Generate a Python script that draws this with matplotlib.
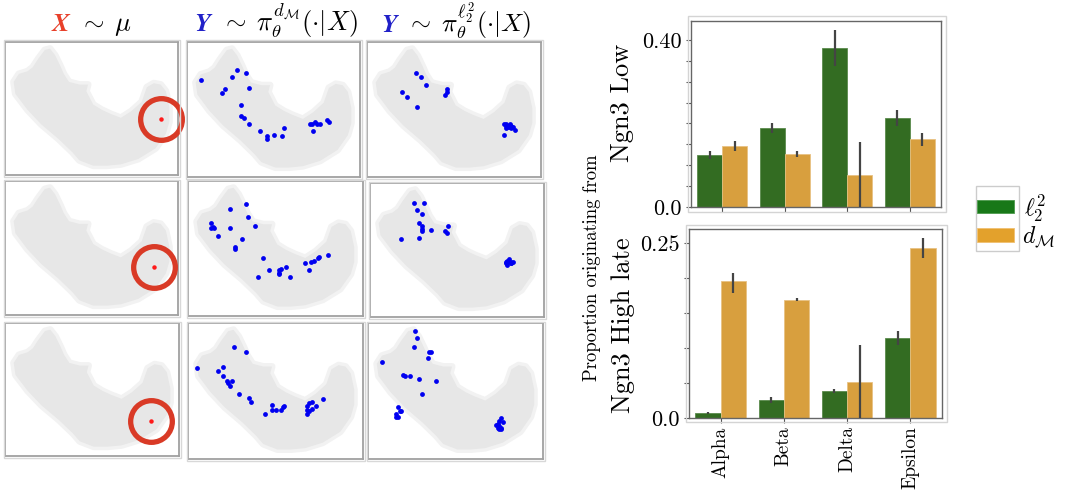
import matplotlib
matplotlib.use("Agg")
import matplotlib.pyplot as plt
from matplotlib.patches import Rectangle
from matplotlib.offsetbox import TextArea, HPacker, AnchoredOffsetbox
import numpy as np

plt.rcParams['font.family'] = ['cmr10', 'DejaVu Serif']
plt.rcParams['mathtext.fontset'] = 'cm'
plt.rcParams['axes.unicode_minus'] = False

# ---------------- data ----------------
categories = ['Alpha', 'Beta', 'Delta', 'Epsilon']

low_l2 = [0.125, 0.190, 0.381, 0.213]
low_l2_lo = [0.115, 0.178, 0.338, 0.193]
low_l2_hi = [0.135, 0.201, 0.424, 0.232]
low_dm = [0.147, 0.127, 0.077, 0.162]
low_dm_lo = [0.135, 0.119, 0.0, 0.147]
low_dm_hi = [0.158, 0.133, 0.155, 0.177]

late_l2 = [0.007, 0.026, 0.038, 0.115]
late_l2_lo = [0.006, 0.022, 0.036, 0.105]
late_l2_hi = [0.009, 0.030, 0.041, 0.124]
late_dm = [0.196, 0.169, 0.052, 0.243]
late_dm_lo = [0.179, 0.167, 0.0, 0.229]
late_dm_hi = [0.207, 0.171, 0.104, 0.257]

# outline of the embedding (background cells), in embedding units 0-100
umap_x = [5, 8, 13, 16, 19, 23, 26, 29, 32, 34, 37, 43, 48, 47, 51, 56, 61, 67, 73, 79,
          82, 86, 90, 93, 95, 95, 93, 87, 77, 67, 59, 51, 43, 39, 31, 21, 13, 6]
umap_y = [70, 76, 78, 81, 87, 94, 95, 90, 82, 76, 70, 68, 68, 63, 53, 49, 46, 43, 48, 55,
          66, 69, 68, 63, 51, 40, 31, 20, 12, 8, 7, 7, 11, 17, 27, 38, 49, 61]

# query points X ~ mu (one per row)
query_x = [90, 86, 84]
query_y = [42, 36, 26]

# samples Y ~ pi(.|X), d_M column and l2 column, per row
dm_x = [
    [8, 29, 34, 26, 36, 22, 20, 31, 31, 33, 36, 42, 46, 46, 50, 55, 56, 72, 74, 75, 77, 73, 81, 82, 71],
    [24, 33, 34, 13, 13, 14, 15, 24, 38, 17, 31, 27, 27, 43, 46, 40, 52, 52, 52, 53, 56, 58, 67, 70, 72, 74, 75, 80, 69],
    [26, 33, 5, 17, 20, 20, 22, 23, 24, 25, 29, 35, 36, 48, 48, 50, 44, 53, 54, 55, 68, 69, 71, 68, 68, 69, 71, 73, 77],
]
dm_y = [
    [72, 79, 77, 74, 66, 65, 62, 53, 45, 44, 39, 34, 30, 28, 31, 30, 36, 39, 41, 39, 39, 34, 42, 41, 39],
    [79, 83, 73, 69, 65, 66, 65, 65, 67, 59, 57, 51, 50, 43, 34, 29, 34, 32, 31, 35, 36, 29, 39, 40, 41, 43, 44, 45, 34],
    [82, 79, 67, 65, 68, 61, 57, 56, 54, 57, 48, 45, 42, 40, 36, 36, 33, 36, 38, 39, 39, 41, 42, 36, 33, 35, 37, 39, 44],
]
l2_x = [
    [28, 31, 34, 20, 23, 29, 46, 46, 45, 79, 80, 82, 83, 84, 80, 81, 83, 85, 79, 81, 82, 80],
    [25, 31, 27, 30, 28, 30, 30, 30, 35, 45, 43, 44, 18, 28, 78, 79, 80, 81, 82, 79, 81, 78, 81],
    [27, 28, 26, 35, 36, 34, 8, 20, 21, 24, 29, 39, 31, 17, 18, 19, 16, 17, 16, 76, 75, 77, 74, 73, 75, 76, 76, 75, 74],
]
l2_y = [
    [77, 74, 68, 63, 59, 52, 65, 63, 61, 39, 39, 39, 38, 37, 36, 37, 36, 35, 31, 38, 37, 38],
    [85, 85, 80, 77, 70, 68, 66, 64, 65, 68, 64, 63, 58, 59, 40, 42, 43, 41, 41, 39, 40, 41, 40],
    [94, 89, 82, 79, 79, 74, 71, 62, 61, 61, 59, 57, 48, 38, 35, 35, 31, 31, 33, 30, 28, 27, 26, 25, 24, 22, 23, 22, 23],
]

# ---------------- figure ----------------
W, H = 1065, 490
fig = plt.figure(figsize=(W / 100, H / 100), dpi=100)


def rect(l, t, r, b):
    return [l / W, 1 - b / H, (r - l) / W, (b - t) / H]


def frame(l, t, r, b, color='#d8d8d8', lw=1.0):
    fig.add_artist(Rectangle((l / W, 1 - b / H), (r - l) / W, (b - t) / H,
                             transform=fig.transFigure, fill=False,
                             edgecolor=color, linewidth=lw))


panel_boxes = [
    [(5, 42, 178, 175), (187, 42, 360, 177), (367, 42, 541, 177)],
    [(5, 181, 178, 315), (188, 181, 363, 316), (370, 183, 544, 317)],
    [(5, 323, 179, 456), (188, 323, 363, 459), (368, 323, 543, 459)],
]

RED = '#d93a26'
BLUE = '#0000f0'

for r in range(3):
    for c in range(3):
        l, t, rr, b = panel_boxes[r][c]
        frame(l - 1.5, t - 1.5, rr + 2, b + 2)
        ax = fig.add_axes(rect(l, t, rr, b))
        ax.set_xlim(0, 100)
        ax.set_ylim(0, 100)
        ax.set_xticks([])
        ax.set_yticks([])
        for s in ax.spines.values():
            s.set_color('#a0a0a0')
            s.set_linewidth(1.3)
        ax.fill(umap_x, umap_y, facecolor='#ebebeb', edgecolor='#f2f2f2',
                linewidth=5, joinstyle='round', zorder=1)
        ax.fill(umap_x, umap_y, facecolor='#e7e7e7', edgecolor='none', zorder=1)
        if c == 0:
            ax.plot(query_x[r], query_y[r], 'o', ms=2.2, color='#ff1a1a', zorder=3)
            ax.plot(query_x[r], query_y[r], 'o', ms=30, mfc='none', mec=RED,
                    mew=3.8, clip_on=False, zorder=4)
        elif c == 1:
            ax.scatter(dm_x[r], dm_y[r], s=12, color=BLUE, zorder=3, linewidths=0)
        else:
            ax.scatter(l2_x[r], l2_y[r], s=12, color=BLUE, zorder=3, linewidths=0)

# column titles
titles = [
    (r'$\mathbfit{X}$', '#e8402a', r'$\;\sim\;\mu$', 91, 38, 19),
    (r'$\mathbfit{Y}$', '#2020c8', r'$\;\sim\;\pi_\theta^{d_\mathcal{M}}(\cdot|X)$', 276, 40, 19),
    (r'$\mathbfit{Y}$', '#2020c8', r'$\;\sim\;\pi_\theta^{\ell_2^2}(\cdot|X)$', 456, 41, 18.5),
]
for a, col, bstr, xc, yb, fs in titles:
    ta = TextArea(a, textprops=dict(color=col, fontsize=fs))
    tb = TextArea(bstr, textprops=dict(color='black', fontsize=fs))
    pk = HPacker(children=[ta, tb], align='baseline', pad=0, sep=0)
    ab = AnchoredOffsetbox(loc='lower center', child=pk, pad=0, borderpad=0,
                           frameon=False, bbox_to_anchor=(xc / W, 1 - yb / H),
                           bbox_transform=fig.transFigure)
    fig.add_artist(ab)

# ---------------- bar charts ----------------
GREEN = '#336c22'
ORANGE = '#d89f3e'
xpos = np.arange(len(categories))
bw = 0.4


def barpanel(box, outer, l2, l2lo, l2hi, dm, dmlo, dmhi, ymax, toplabel, ylabel, ylab_xy, show_x):
    frame(*outer, color='#d4d4d4')
    ax = fig.add_axes(rect(*box))
    ax.bar(xpos - bw / 2, l2, bw, color=GREEN, edgecolor='#5b8a4c', linewidth=0.6, zorder=2)
    ax.bar(xpos + bw / 2, dm, bw, color=ORANGE, edgecolor='#e8c283', linewidth=0.6, zorder=2)
    ax.vlines(xpos - bw / 2, l2lo, l2hi, color='#444444', linewidth=1.6, zorder=3)
    ax.vlines(xpos + bw / 2, dmlo, dmhi, color='#444444', linewidth=1.6, zorder=3, clip_on=False)
    ax.set_xlim(-0.5, len(categories) - 0.5)
    ax.set_ylim(0, ymax)
    ticks = np.arange(0, ymax, 0.05)
    ax.set_yticks(ticks)
    labels = [''] * len(ticks)
    labels[0] = '0.0'
    labels[-1] = toplabel
    ax.set_yticklabels(labels)
    ax.set_xticks(xpos)
    if show_x:
        ax.set_xticklabels(categories, rotation=90)
    else:
        ax.set_xticklabels([])
    ax.tick_params(axis='y', length=3.5, width=0.8, color='#555555',
                   labelsize=16, pad=3)
    ax.tick_params(axis='x', length=3.5, width=0.8, color='#555555',
                   labelsize=14, pad=2.5)
    for s in ax.spines.values():
        s.set_color('#666666')
        s.set_linewidth(1.0)
    fig.text(ylab_xy[0] / W, 1 - ylab_xy[1] / H, ylabel, rotation=90,
             ha='center', va='center', fontsize=19)
    return ax


barpanel((691, 21, 941, 207), (688, 16, 946, 212), low_l2, low_l2_lo, low_l2_hi,
         low_dm, low_dm_lo, low_dm_hi, 0.445, '0.40', 'Ngn3 Low', (622, 103), False)
barpanel((689, 229, 942, 418), (686, 225, 947, 422), late_l2, late_l2_lo, late_l2_hi,
         late_dm, late_dm_lo, late_dm_hi, 0.27, '0.25', 'Ngn3 High late', (623, 325), True)

fig.text(592 / W, 1 - 268 / H, 'Proportion originating from', rotation=90,
         ha='center', va='center', fontsize=13.5)

# legend (drawn by hand to mimic the original layout)
frame(976, 186, 1019, 251, color='#cccccc')
fig.add_artist(Rectangle((977 / W, 1 - 213 / H), 37 / W, 13 / H, transform=fig.transFigure,
                         facecolor='#187818', edgecolor='#4c9a4c', linewidth=0.6))
fig.add_artist(Rectangle((977 / W, 1 - 242 / H), 37 / W, 14 / H, transform=fig.transFigure,
                         facecolor='#e3a12c', edgecolor='#f0c070', linewidth=0.6))
fig.text(1024 / W, 1 - 208 / H, r'$\ell_2^2$', ha='left', va='center', fontsize=17)
fig.text(1022 / W, 1 - 237 / H, r'$d_\mathcal{M}$', ha='left', va='center', fontsize=17)

fig.savefig('out.png', dpi=100)
